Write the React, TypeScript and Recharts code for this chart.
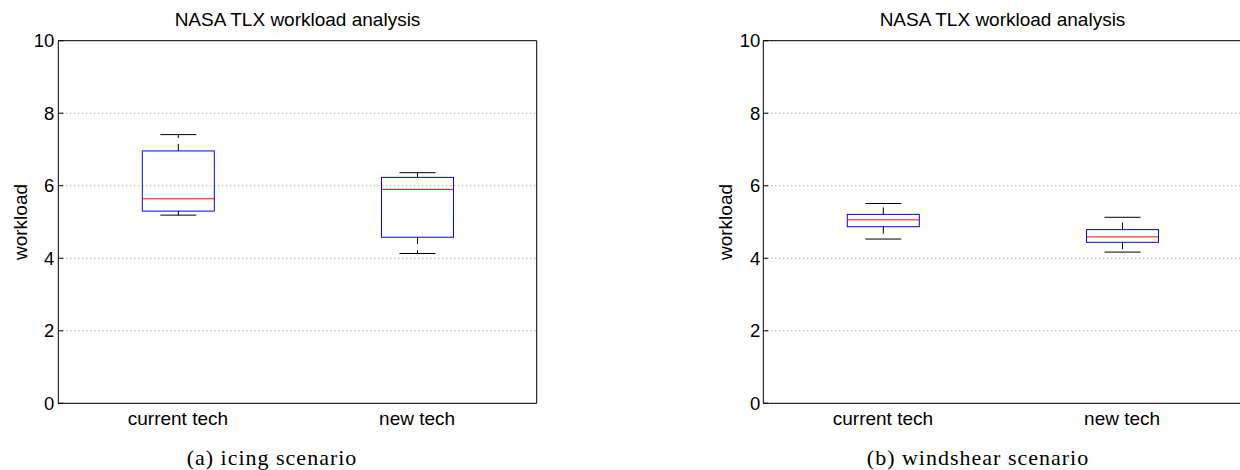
import React from 'react';
import { ComposedChart, Bar, XAxis, YAxis, CartesianGrid } from 'recharts';

// ---- data ----
const categories = ['current tech', 'new tech'];

const icingMin = [5.19, 4.13];
const icingQ1 = [5.3, 4.58];
const icingMedian = [5.64, 5.9];
const icingQ3 = [6.96, 6.23];
const icingMax = [7.41, 6.36];

const windMin = [4.53, 4.17];
const windQ1 = [4.87, 4.44];
const windMedian = [5.06, 4.59];
const windQ3 = [5.21, 4.79];
const windMax = [5.51, 5.13];

const yTicks = [0, 2, 4, 6, 8, 10];

const chartTitle = 'NASA TLX workload analysis';
const yLabel = 'workload';
const captionA = '(a) icing scenario';
const captionB = '(b) windshear scenario';

const buildData = (mn: number[], q1: number[], md: number[], q3: number[], mx: number[]) =>
  categories.map((name, i) => ({
    name,
    range: [mn[i], mx[i]],
    min: mn[i],
    q1: q1[i],
    median: md[i],
    q3: q3[i],
    max: mx[i],
  }));

const icingData = buildData(icingMin, icingQ1, icingMedian, icingQ3, icingMax);
const windData = buildData(windMin, windQ1, windMedian, windQ3, windMax);

const SANS = '"Liberation Sans", Arial, Helvetica, sans-serif';
const SERIF = '"Liberation Serif", "Times New Roman", serif';

const BoxShape = (props: any) => {
  const { x, y, width, height } = props;
  const p = props.payload || props;
  const top = Math.min(y, y + height);
  const bot = Math.max(y, y + height);
  const span = p.max - p.min;
  const toY = (v: number) => top + ((p.max - v) / span) * (bot - top);
  const cx = x + width / 2;
  const capHalf = width / 4;
  const yMax = toY(p.max);
  const yQ3 = toY(p.q3);
  const yMed = toY(p.median);
  const yQ1 = toY(p.q1);
  const yMin = toY(p.min);
  return (
    <g>
      <line x1={cx} x2={cx} y1={yQ3} y2={yMax} stroke="#000" strokeWidth={1} strokeDasharray="7 6" />
      <line x1={cx} x2={cx} y1={yQ1} y2={yMin} stroke="#000" strokeWidth={1} strokeDasharray="7 6" />
      <line x1={cx - capHalf} x2={cx + capHalf} y1={yMax} y2={yMax} stroke="#000" strokeWidth={1} />
      <line x1={cx - capHalf} x2={cx + capHalf} y1={yMin} y2={yMin} stroke="#000" strokeWidth={1} />
      <rect x={x} y={yQ3} width={width} height={yQ1 - yQ3} fill="none" stroke="#0000ff" strokeWidth={1} />
      <line x1={x} x2={x + width} y1={yMed} y2={yMed} stroke="#ff0000" strokeWidth={1} />
    </g>
  );
};

const makeLeftTick = (margin: number) => (props: any) => {
  const { x, y, payload } = props;
  return (
    <g>
      <line x1={x + margin} x2={x + margin + 5} y1={y} y2={y} stroke="#000" strokeWidth={1} />
      <text x={x} y={y} dy="0.355em" textAnchor="end" fontSize={18.5} fontFamily={SANS} fill="#000">
        {payload.value}
      </text>
    </g>
  );
};

const Panel = ({
  left,
  data,
  tickMargin,
  chartWidth,
  rightMargin,
}: {
  left: number;
  data: any[];
  tickMargin: number;
  chartWidth: number;
  rightMargin: number;
}) => (
  <div style={{ position: 'absolute', left, top: 0 }}>
    <ComposedChart
      width={chartWidth}
      height={470}
      data={data}
      margin={{ top: 39.7, right: rightMargin, bottom: 36.7, left: 0 }}
    >
      <CartesianGrid vertical={false} stroke="#8c8c8c" strokeDasharray="1 3" />
      <XAxis
        dataKey="name"
        type="category"
        interval={0}
        height={30}
        tickLine={false}
        tickSize={0}
        tickMargin={8}
        axisLine={{ stroke: '#000', strokeWidth: 1 }}
        tick={{ fill: '#000', fontSize: 19, fontFamily: SANS }}
      />
      <XAxis
        xAxisId="top"
        dataKey="name"
        type="category"
        orientation="top"
        height={1}
        interval={0}
        tick={false}
        tickLine={false}
        axisLine={{ stroke: '#000', strokeWidth: 1 }}
      />
      <YAxis
        domain={[0, 10]}
        ticks={yTicks}
        type="number"
        width={58.3}
        tickLine={false}
        tickSize={0}
        tickMargin={tickMargin}
        axisLine={{ stroke: '#000', strokeWidth: 1 }}
        tick={makeLeftTick(tickMargin)}
        allowDataOverflow
      />
      <YAxis
        yAxisId="r"
        orientation="right"
        domain={[0, 10]}
        ticks={yTicks}
        type="number"
        width={1}
        mirror
        tick={false}
        tickSize={5}
        tickLine={{ stroke: '#000', strokeWidth: 1 }}
        axisLine={{ stroke: '#000', strokeWidth: 1 }}
      />
      <Bar dataKey="range" barSize={72} fill="none" shape={BoxShape} isAnimationActive={false} />
    </ComposedChart>
  </div>
);

export default function App() {
  return (
    <div
      style={{
        position: 'absolute',
        left: 0,
        top: 0,
        width: 1240,
        height: 470,
        overflow: 'hidden',
        background: '#fff',
      }}
    >
      <Panel left={0} data={icingData} tickMargin={4} chartWidth={540} rightMargin={3.3} />
      <Panel left={705} data={windData} tickMargin={3} chartWidth={535} rightMargin={-1.7} />
      <svg
        width={1240}
        height={470}
        style={{ position: 'absolute', left: 0, top: 0, pointerEvents: 'none' }}
      >
        <text x={297.5} y={26} textAnchor="middle" fontSize={19} fontFamily={SANS} fill="#000">
          {chartTitle}
        </text>
        <text x={1002.5} y={26} textAnchor="middle" fontSize={19} fontFamily={SANS} fill="#000">
          {chartTitle}
        </text>
        <text transform="translate(26.8,222) rotate(-90)" textAnchor="middle" fontSize={19} fontFamily={SANS} fill="#000">
          {yLabel}
        </text>
        <text transform="translate(731.8,222) rotate(-90)" textAnchor="middle" fontSize={19} fontFamily={SANS} fill="#000">
          {yLabel}
        </text>
        <text x={272} y={465} textAnchor="middle" fontSize={22} fontFamily={SERIF} letterSpacing={1} fill="#000">
          {captionA}
        </text>
        <text x={978} y={465} textAnchor="middle" fontSize={22} fontFamily={SERIF} letterSpacing={1} fill="#000">
          {captionB}
        </text>
      </svg>
    </div>
  );
}
